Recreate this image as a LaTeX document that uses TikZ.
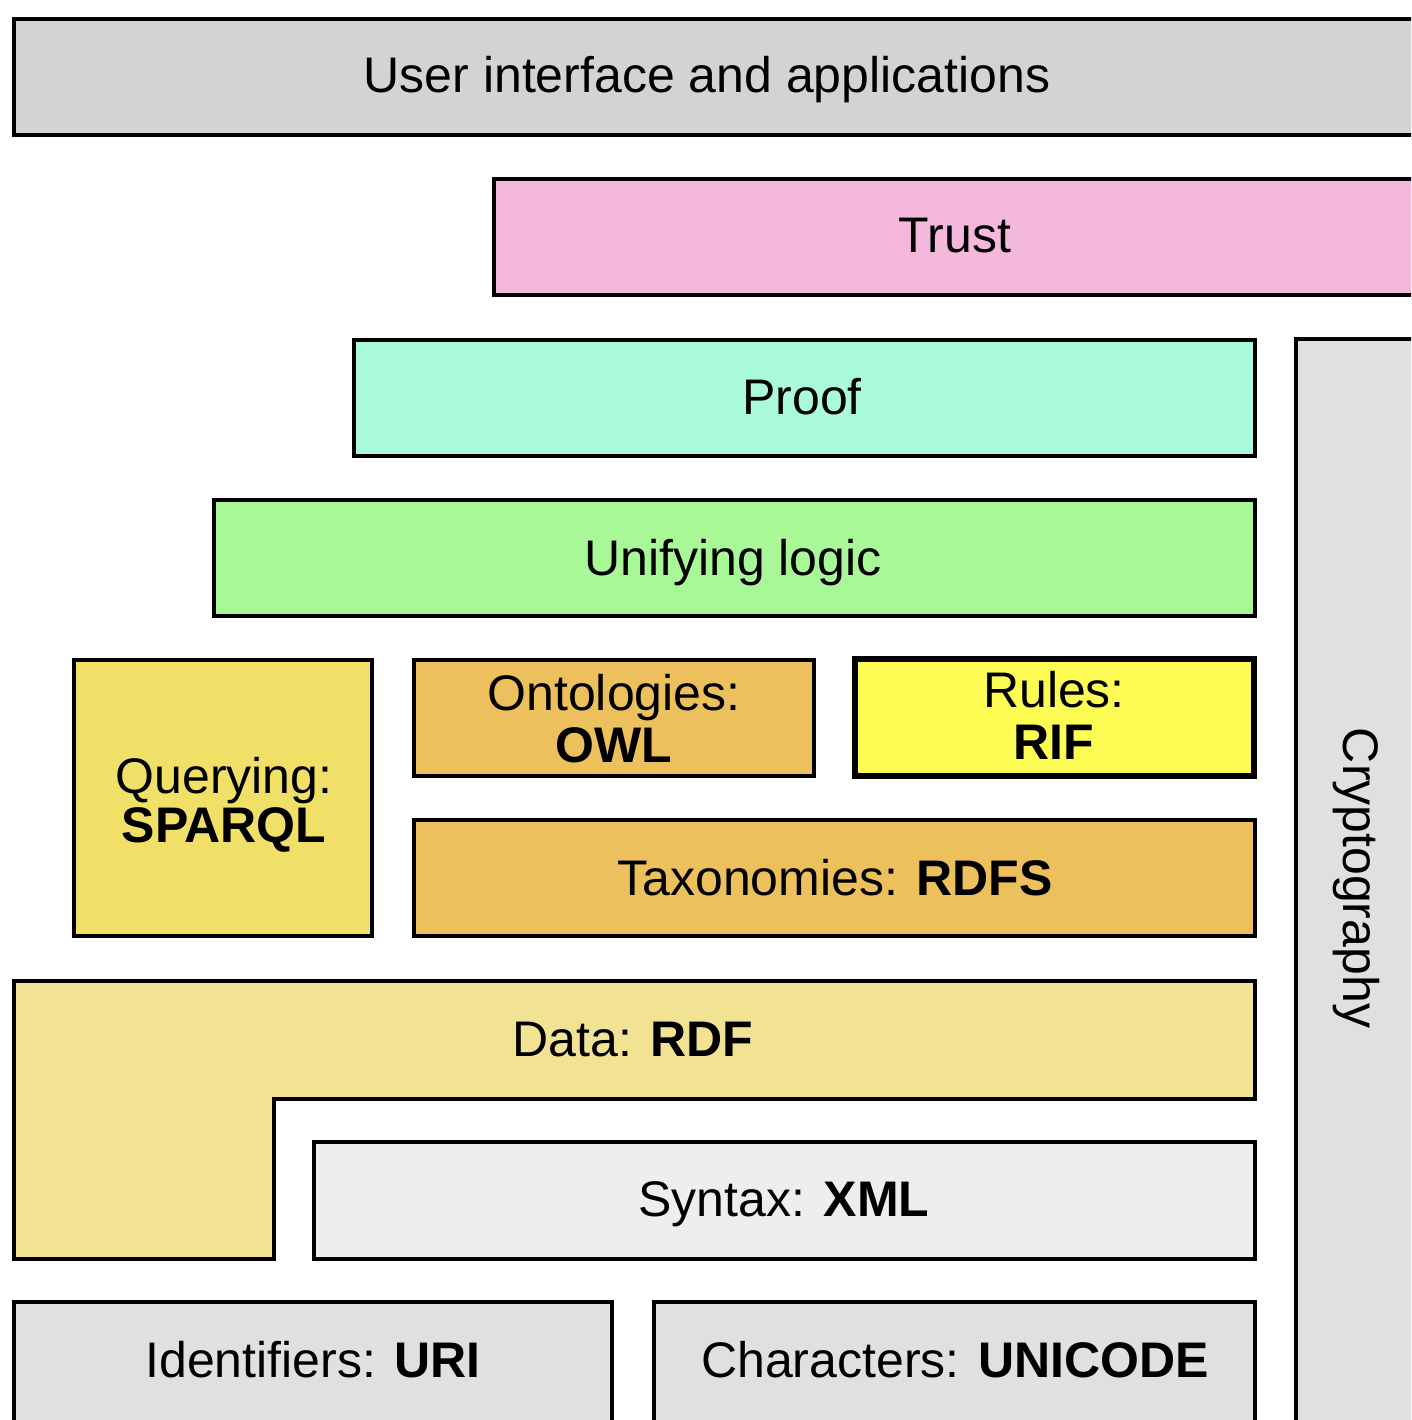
\documentclass[tikz,border=0pt]{standalone}
\usepackage{fontspec}
\setmainfont{Liberation Sans}
\begin{document}
\begin{tikzpicture}[x=1pt,y=-1pt,
  box/.style={draw=black,line width=4pt,line join=miter},
  lbl/.style={font=\fontsize{50}{50}\selectfont,align=center,inner sep=0pt,text=black,anchor=base}]
\useasboundingbox (0,0) rectangle (1411,1420);
\clip (0,0) rectangle (1411,1420);
\definecolor{cui}{HTML}{D3D3D3}
\definecolor{ctrust}{HTML}{F4B8DC}
\definecolor{cproof}{HTML}{A8FAD9}
\definecolor{cunify}{HTML}{A8F898}
\definecolor{cquery}{HTML}{F0E068}
\definecolor{conto}{HTML}{ECC05C}
\definecolor{crules}{HTML}{FCFC54}
\definecolor{cdata}{HTML}{F2E294}
\definecolor{csyntax}{HTML}{EEEEEE}
\definecolor{cid}{HTML}{E0E0E0}
% boxes
\draw[box,fill=cui] (14,19) rectangle (1430,135);
\draw[box,fill=ctrust] (494,179) rectangle (1430,295);
\draw[box,fill=cproof] (354,340) rectangle (1255,456);
\draw[box,fill=cunify] (214,500) rectangle (1255,616);
\draw[box,fill=cquery] (74,660) rectangle (372,936);
\draw[box,fill=conto] (414,660) rectangle (814,776);
\draw[box,fill=crules,line width=6pt] (855,659) rectangle (1254,776);
\draw[box,fill=conto] (414,820) rectangle (1255,936);
\draw[box,fill=cdata] (14,981) -- (1255,981) -- (1255,1099) -- (273.5,1099) -- (273.5,1259) -- (14,1259) -- cycle;
\draw[box,fill=csyntax] (313.5,1141.5) rectangle (1255,1259);
\draw[box,fill=cid] (14,1302) rectangle (612,1440);
\draw[box,fill=cid] (654,1302) rectangle (1255,1440);
\draw[box,fill=cid] (1296,339) rectangle (1430,1440);
% labels
\node[lbl] (ui) at (707,93) {User interface and applications};
\node[lbl] (trust) at (955,253) {Trust};
\node[lbl] (proof) at (802,414) {Proof};
\node[lbl] (unify) at (733,575) {Unifying logic};
\node[lbl] (query) at (224,842) {Querying:\\[-1pt]\textbf{SPARQL}};
\node[lbl] (onto) at (614,762) {Ontologies:\\[2pt]\textbf{OWL}};
\node[lbl] (rules) at (1054,759) {Rules:\\[2pt]\textbf{RIF}};
\node[lbl] (taxo) at (835,895) {Taxonomies: \textbf{RDFS}};
\node[lbl] (data) at (633,1056) {Data: \textbf{RDF}};
\node[lbl] (syntax) at (784,1216) {Syntax: \textbf{XML}};
\node[lbl] (ident) at (313,1377) {Identifiers: \textbf{URI}};
\node[lbl] (chars) at (955,1377) {Characters: \textbf{UNICODE}};
\node[lbl,rotate=-90] (crypto) at (1343,878) {Cryptography};
\end{tikzpicture}
\end{document}
